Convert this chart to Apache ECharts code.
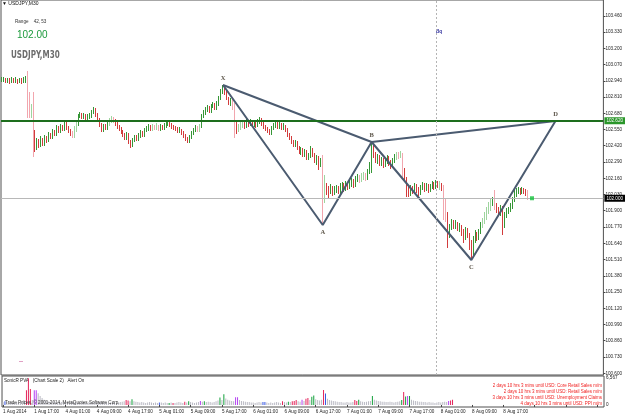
<!DOCTYPE html>
<html style="height: 100%;">
  <head>
    <meta charset="utf-8" />
    <script type="text/javascript" src="https://cdn.jsdelivr.net/npm/echarts/dist/echarts.min.js"></script>
  </head>
  <body style="height: 100%; margin: 0; background: #fff;">
    <div id="container" style="width: 625px; height: 417px;"></div>

    <script type="text/javascript">
      // USDJPY M30 bars, open of each bar = previous close
      var firstOpen = 102.938;
      var closes = [
        102.946,102.954,102.938,102.946,102.930,102.954,102.938,102.946,102.930,102.946,
        102.938,102.946,102.946,102.722,102.690,102.722,102.466,102.402,102.450,102.426,
        102.466,102.434,102.482,102.458,102.506,102.490,102.530,102.514,102.562,102.538,
        102.570,102.554,102.594,102.562,102.538,102.514,102.498,102.546,102.594,102.658,
        102.666,102.650,102.658,102.642,102.650,102.658,102.690,102.706,102.666,102.626,
        102.586,102.546,102.578,102.562,102.594,102.618,102.634,102.618,102.594,102.570,
        102.554,102.538,102.506,102.482,102.514,102.450,102.418,102.466,102.490,102.474,
        102.498,102.522,102.506,102.546,102.554,102.570,102.554,102.570,102.562,102.578,
        102.554,102.570,102.562,102.578,102.594,102.602,102.586,102.570,102.562,102.554,
        102.538,102.546,102.522,102.498,102.474,102.458,102.490,102.522,102.546,102.562,
        102.546,102.578,102.658,102.682,102.706,102.722,102.698,102.738,102.746,102.722,
        102.754,102.802,102.850,102.898,102.850,102.802,102.762,102.786,102.722,102.586,
        102.546,102.570,102.578,102.594,102.578,102.610,102.594,102.610,102.586,102.602,
        102.586,102.610,102.626,102.594,102.570,102.554,102.538,102.522,102.562,102.578,
        102.594,102.570,102.586,102.562,102.578,102.546,102.506,102.482,102.450,102.426,
        102.442,102.402,102.370,102.386,102.346,102.370,102.322,102.338,102.386,102.346,
        102.306,102.322,102.266,102.290,102.026,102.106,102.066,102.050,102.082,102.042,
        102.066,102.074,102.050,102.090,102.098,102.074,102.106,102.090,102.114,102.130,
        102.106,102.146,102.162,102.146,102.170,102.178,102.162,102.210,102.266,102.426,
        102.346,102.306,102.322,102.282,102.306,102.266,102.290,102.322,102.282,102.258,
        102.298,102.322,102.346,102.338,102.354,102.226,102.162,102.066,102.034,102.082,
        102.058,102.098,102.066,102.042,102.082,102.106,102.074,102.098,102.066,102.090,
        102.114,102.090,102.122,102.106,102.114,102.082,101.986,101.866,101.706,101.762,
        101.810,101.778,101.794,101.762,101.778,101.730,101.690,101.746,101.706,101.626,
        101.546,101.666,101.706,101.682,101.730,101.778,101.810,101.842,101.890,101.922,
        101.962,101.986,101.946,101.906,101.882,101.922,101.786,101.866,101.890,101.906,
        101.930,101.986,102.034,102.050,102.066,102.050,102.066,102.058,102.042,102.002
      ];
      var highs = [
        102.970,102.970,102.962,102.962,102.962,102.970,102.962,102.970,102.954,102.962,
        102.962,102.970,102.978,103.018,102.850,102.754,102.850,102.546,102.482,102.474,
        102.498,102.482,102.506,102.498,102.530,102.522,102.554,102.546,102.586,102.578,
        102.594,102.586,102.618,102.610,102.578,102.554,102.538,102.578,102.610,102.674,
        102.690,102.682,102.682,102.674,102.674,102.682,102.706,102.730,102.722,102.682,
        102.642,102.602,102.594,102.594,102.618,102.642,102.658,102.650,102.634,102.610,
        102.586,102.570,102.546,102.522,102.530,102.522,102.466,102.482,102.506,102.506,
        102.522,102.546,102.538,102.562,102.578,102.594,102.586,102.594,102.586,102.602,
        102.586,102.594,102.586,102.602,102.618,102.626,102.618,102.602,102.586,102.578,
        102.570,102.570,102.554,102.538,102.514,102.490,102.506,102.538,102.562,102.586,
        102.578,102.594,102.674,102.706,102.730,102.746,102.738,102.754,102.770,102.762,
        102.778,102.818,102.874,102.906,102.890,102.858,102.810,102.802,102.794,102.762,
        102.610,102.594,102.610,102.626,102.610,102.634,102.626,102.634,102.618,102.626,
        102.618,102.634,102.650,102.642,102.610,102.586,102.570,102.554,102.578,102.602,
        102.618,102.610,102.610,102.602,102.602,102.586,102.562,102.522,102.498,102.466,
        102.466,102.458,102.418,102.410,102.402,102.394,102.386,102.362,102.418,102.402,
        102.362,102.346,102.338,102.322,102.346,102.186,102.122,102.098,102.114,102.098,
        102.098,102.106,102.098,102.122,102.130,102.122,102.138,102.130,102.146,102.162,
        102.154,102.178,102.194,102.186,102.202,102.210,102.202,102.234,102.290,102.450,
        102.442,102.370,102.354,102.346,102.330,102.322,102.322,102.346,102.338,102.306,
        102.322,102.354,102.370,102.370,102.378,102.362,102.242,102.170,102.098,102.106,
        102.098,102.122,102.114,102.090,102.106,102.130,102.122,102.122,102.114,102.114,
        102.138,102.130,102.146,102.138,102.138,102.122,102.106,102.002,101.890,101.794,
        101.834,101.826,101.826,101.810,101.802,101.786,101.754,101.770,101.762,101.722,
        101.666,101.698,101.746,101.730,101.754,101.810,101.842,101.890,101.930,101.970,
        101.994,102.010,102.066,101.962,101.930,101.946,101.938,101.890,101.922,101.930,
        101.962,102.010,102.066,102.082,102.090,102.082,102.090,102.082,102.074,102.066
      ];
      var lows = [
        102.930,102.930,102.922,102.922,102.914,102.922,102.922,102.922,102.914,102.922,
        102.914,102.922,102.922,102.642,102.642,102.642,102.330,102.370,102.386,102.402,
        102.410,102.418,102.418,102.442,102.450,102.474,102.474,102.498,102.498,102.522,
        102.522,102.538,102.538,102.546,102.522,102.498,102.482,102.482,102.530,102.578,
        102.642,102.634,102.634,102.626,102.626,102.634,102.642,102.674,102.650,102.610,
        102.570,102.530,102.530,102.546,102.546,102.578,102.602,102.602,102.578,102.554,
        102.538,102.514,102.490,102.466,102.466,102.434,102.402,102.410,102.450,102.458,
        102.458,102.482,102.490,102.490,102.530,102.538,102.538,102.538,102.546,102.546,
        102.538,102.538,102.546,102.546,102.562,102.578,102.570,102.554,102.546,102.538,
        102.522,102.522,102.506,102.482,102.458,102.442,102.442,102.474,102.506,102.530,
        102.530,102.530,102.562,102.642,102.666,102.690,102.682,102.682,102.722,102.706,
        102.706,102.738,102.786,102.834,102.826,102.786,102.746,102.738,102.706,102.482,
        102.514,102.530,102.546,102.562,102.554,102.562,102.570,102.578,102.570,102.570,
        102.562,102.570,102.594,102.578,102.554,102.538,102.522,102.506,102.506,102.546,
        102.562,102.554,102.554,102.546,102.546,102.530,102.490,102.466,102.434,102.410,
        102.410,102.386,102.354,102.346,102.330,102.330,102.306,102.306,102.322,102.330,
        102.282,102.266,102.226,102.250,101.786,101.962,102.026,102.002,102.034,102.018,
        102.026,102.042,102.034,102.034,102.066,102.050,102.058,102.066,102.074,102.090,
        102.082,102.090,102.130,102.122,102.130,102.146,102.138,102.146,102.194,102.202,
        102.322,102.282,102.274,102.258,102.258,102.242,102.250,102.274,102.258,102.234,
        102.242,102.282,102.306,102.314,102.322,102.170,102.130,102.010,102.010,102.018,
        102.034,102.042,102.042,102.018,102.026,102.066,102.050,102.058,102.042,102.050,
        102.074,102.066,102.074,102.082,102.066,102.058,101.826,101.810,101.602,101.682,
        101.746,101.754,101.754,101.738,101.730,101.698,101.642,101.666,101.682,101.586,
        101.506,101.530,101.642,101.658,101.666,101.714,101.762,101.794,101.826,101.874,
        101.898,101.938,101.906,101.882,101.858,101.858,101.706,101.762,101.842,101.874,
        101.890,101.914,101.970,102.010,102.034,102.026,102.034,102.034,102.018,101.986
      ];
      // bars drawn in the pale colours
      var lightBars = [13,14,15,16,36,37,38,55,56,57,77,78,79,80,100,101,118,119,121,122,123,
        164,165,183,184,185,186,202,203,204,205,224,226,227,246,247,248,249,250,252,269];

      // SonicR PVA volume
      var volumes = [
        700,900,800,600,700,500,600,700,600,800,
        900,1100,3600,6567,3900,1200,3600,3600,2900,2200,
        1700,1300,1100,900,800,700,900,700,600,800,
        700,600,800,700,600,900,800,700,600,700,
        600,700,600,500,700,600,800,700,600,700,
        800,600,700,600,500,600,700,600,500,600,
        700,800,900,1200,1100,900,1400,900,800,700,
        600,700,600,500,600,700,600,500,600,500,
        600,600,500,600,500,500,600,500,500,600,
        700,600,500,800,600,900,700,600,500,600,
        700,1000,800,900,700,800,700,600,700,900,
        1100,1800,1200,2600,1600,1300,1100,1000,900,1900,
        1900,1200,1000,900,800,700,700,600,600,500,
        600,700,600,700,700,600,500,600,500,600,
        700,600,500,900,700,600,800,700,900,1000,
        1200,900,800,1300,1000,1500,1700,1200,2000,2300,
        1400,1200,1100,1300,3650,2800,1500,1200,1100,1000,
        900,800,700,700,600,600,700,600,600,700,
        1200,1000,1300,900,800,700,800,900,1000,2200,
        1300,1100,1000,900,800,800,700,700,800,700,
        600,700,800,900,1200,3200,2100,2200,2200,1300,
        1100,1000,900,800,800,700,700,600,700,600,
        600,500,600,700,600,700,800,700,1000,1100,
        1300
      ];
      var redVol = [12,13,14,63,64,87,93,143,148,149,150,155,156,164,180,181,205,229,230];
      var greenVol = [66,85,95,103,111,113,146,158,159,182,189,204,206,208];
      var blueVol = [1,80,133,134,165];
      var violetVol = [16,17,101,119,120,153,207,228];

      // harmonic pattern points [bar index, price]
      var patternNames = ["X", "A", "B", "C", "D"];
      var patternBars = [113, 164, 189, 240, 283];
      var patternPrices = [102.906, 101.786, 102.45, 101.506, 102.618];

      var levelPrice = 102.62;
      var bidPrice = 102.0;
      var lastBar = 271;
      var separatorBar = 222;

      var timeLabels = ["1 Aug 2014", "1 Aug 17:00", "4 Aug 01:00", "4 Aug 09:00", "4 Aug 17:00",
        "5 Aug 01:00", "5 Aug 09:00", "5 Aug 17:00", "6 Aug 01:00", "6 Aug 09:00", "6 Aug 17:00",
        "7 Aug 01:00", "7 Aug 09:00", "7 Aug 17:00", "8 Aug 01:00", "8 Aug 09:00", "8 Aug 17:00"];
      var priceTicks = [103.46, 103.33, 103.2, 103.07, 102.94, 102.81, 102.68, 102.55, 102.42,
        102.29, 102.16, 102.03, 101.9, 101.77, 101.64, 101.51, 101.38, 101.25, 101.12, 100.99,
        100.86, 100.73, 100.6];
      var volTicks = [0, 6567];
      var newsLines = [
        "2 days 10 hrs 3 mins until USD: Core Retail Sales m/m",
        "2 days 10 hrs 3 mins until USD: Retail Sales m/m",
        "3 days 10 hrs 3 mins until USD: Unemployment Claims",
        "4 days 10 hrs 3 mins until USD: PPI m/m"
      ];

      var nCats = 308;
      var cats = [];
      for (var i = 0; i < nCats; i++) {
        cats.push(i % 16 === 0 && timeLabels[i / 16] ? timeLabels[i / 16] : "");
      }

      var upColor = "#369636", downColor = "#d23c3c";
      var lightUp = "#9ed49e", lightDown = "#f2a6ae";
      var candles = closes.map(function (c, i) {
        var o = i === 0 ? firstOpen : closes[i - 1];
        var up = c >= o;
        var light = lightBars.indexOf(i) >= 0;
        var col = up ? (light ? lightUp : upColor) : (light ? lightDown : downColor);
        return {
          value: [o, c, lows[i], highs[i]],
          itemStyle: { color: col, color0: col, borderColor: col, borderColor0: col }
        };
      });

      var volData = volumes.map(function (v, i) {
        var col = "#b9b9c3";
        if (redVol.indexOf(i) >= 0) col = "#e4245a";
        else if (greenVol.indexOf(i) >= 0) col = "#12a03a";
        else if (blueVol.indexOf(i) >= 0) col = "#3656e2";
        else if (violetVol.indexOf(i) >= 0) col = "#b442f2";
        return { value: v, itemStyle: { color: col } };
      });

      var zigzag = patternBars.map(function (b, i) {
        return [b, patternPrices[i]];
      });
      var outline = [0, 2, 4].map(function (k) {
        return [patternBars[k], patternPrices[k]];
      });
      var pointLabels = patternBars.map(function (b, i) {
        var below = i % 2 === 1;
        return {
          value: [b, patternPrices[i]],
          label: { formatter: patternNames[i], position: below ? "bottom" : "top", distance: 3 }
        };
      });

      var small = { fontSize: 4.6, fontFamily: "Liberation Sans", color: "#222" };

      var myChart = echarts.init(document.getElementById("container"));
      var option = {
        animation: false,
        backgroundColor: "#ffffff",
        grid: [
          { left: 1, right: 21, top: 0, height: 375, show: true, borderColor: "#505050", borderWidth: 1 },
          { left: 1, right: 21, top: 376, height: 31, show: true, borderColor: "#505050", borderWidth: 1 }
        ],
        xAxis: [
          {
            type: "category", gridIndex: 0, data: cats, boundaryGap: true,
            axisLine: { show: false }, axisTick: { show: false }, axisLabel: { show: false }
          },
          {
            type: "category", gridIndex: 1, data: cats, boundaryGap: true,
            axisLine: { show: false },
            axisTick: { show: true, interval: 15, alignWithLabel: true, length: 2, lineStyle: { color: "#444" } },
            axisLabel: Object.assign({ interval: 15, align: "left", margin: 2 }, small)
          }
        ],
        yAxis: [
          {
            type: "value", gridIndex: 0, position: "right", min: 100.586, max: 103.586,
            splitLine: { show: false }, axisLine: { show: false },
            axisTick: { show: true, length: 2, customValues: priceTicks, lineStyle: { color: "#444" } },
            axisLabel: Object.assign({
              margin: 2, customValues: priceTicks,
              formatter: function (v) { return v.toFixed(3); }
            }, small)
          },
          {
            type: "value", gridIndex: 1, position: "right", min: -500, max: 7100,
            splitLine: { show: false }, axisLine: { show: false }, axisTick: { show: false },
            axisLabel: Object.assign({ margin: 2, customValues: volTicks }, small)
          }
        ],
        series: [
          {
            type: "candlestick", xAxisIndex: 0, yAxisIndex: 0, barWidth: 0.1, data: candles,
            itemStyle: { color: upColor, color0: downColor, borderColor: upColor, borderColor0: downColor, borderWidth: 1 },
            markLine: {
              silent: true, symbol: "none", animation: false,
              data: [
                {
                  yAxis: levelPrice, lineStyle: { color: "#1d6e1d", width: 2, type: "solid" },
                  label: { position: "end", distance: 1, formatter: levelPrice.toFixed(3), backgroundColor: "#2a962a",
                    color: "#fff", fontSize: 4.6, fontFamily: "Liberation Sans", padding: [1, 2] }
                },
                {
                  yAxis: bidPrice, lineStyle: { color: "#b8b8b8", width: 1, type: "solid" },
                  label: { position: "end", distance: 1, formatter: bidPrice.toFixed(3), backgroundColor: "#000",
                    color: "#fff", fontSize: 4.6, fontFamily: "Liberation Sans", padding: [1, 2] }
                },
                {
                  xAxis: separatorBar, lineStyle: { color: "#b4b4b4", width: 1, type: [2, 2] },
                  label: { show: false }
                }
              ]
            }
          },
          {
            type: "line", xAxisIndex: 0, yAxisIndex: 0, data: zigzag, symbol: "none", silent: true,
            lineStyle: { color: "#4b5b70", width: 2 }, z: 4
          },
          {
            type: "line", xAxisIndex: 0, yAxisIndex: 0, data: outline, symbol: "none", silent: true,
            lineStyle: { color: "#4b5b70", width: 2 }, z: 4
          },
          {
            type: "scatter", xAxisIndex: 0, yAxisIndex: 0, data: pointLabels, symbolSize: 1,
            itemStyle: { color: "rgba(0,0,0,0)" }, silent: true, z: 6,
            label: { show: true, color: "#332a1c", fontSize: 6.5, fontWeight: "bold", fontFamily: "Liberation Serif" }
          },
          {
            type: "scatter", xAxisIndex: 0, yAxisIndex: 0, data: [[lastBar, bidPrice]], z: 6,
            symbol: "rect", symbolSize: 4, itemStyle: { color: "#14c23c" }, silent: true
          },
          {
            type: "bar", xAxisIndex: 1, yAxisIndex: 1, barWidth: 1, data: volData, silent: true
          }
        ],
        graphic: [
          { type: "text", left: 2, top: 1, style: { text: "\u25BC USDJPY,M30", fill: "#111", font: "5px Liberation Sans" } },
          { type: "text", left: 15, top: 19, style: { text: "Range    42, 53", fill: "#333", font: "4.6px Liberation Sans" } },
          { type: "text", left: 17, top: 30, style: { text: "102.00", fill: "#1c9a3c", font: "10px Liberation Sans" } },
          { type: "text", left: 11, top: 50, scaleY: 1.25,
            style: { text: "USDJPY,M30", fill: "#6e6e6e", font: "bold 8px 'Liberation Sans Narrow', 'DejaVu Sans Condensed', sans-serif" } },
          { type: "text", left: 436, top: 29, style: { text: "Bq", fill: "#2c2c9c", font: "bold 4.6px Liberation Sans" } },
          { type: "rect", left: 19, top: 361, shape: { width: 4, height: 1 }, style: { fill: "#e0a0c4" } },
          { type: "text", left: 4, top: 378, style: { text: "SonicR PVA   (Chart Scale 2)   Alert On", fill: "#222", font: "4.6px Liberation Sans" } },
          { type: "text", left: 5, top: 400, z: 10, style: { text: "Trade Prices, \u00A9 2001-2014, MetaQuotes Software Corp.", fill: "#333", font: "4.6px Liberation Sans" } },
          {
            type: "group", right: 23, top: 383,
            children: newsLines.map(function (t, k) {
              return { type: "text", x: 0, y: k * 6, style: { text: t, fill: "#f01e1e", font: "4.5px Liberation Sans", align: "right" } };
            })
          }
        ]
      };
      myChart.setOption(option);
    </script>
  </body>
</html>
